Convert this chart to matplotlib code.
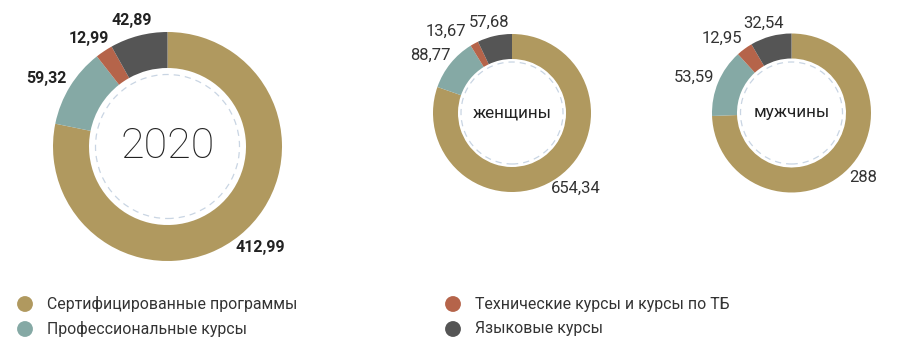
import matplotlib
matplotlib.use("Agg")
import matplotlib.pyplot as plt
from matplotlib.patches import Circle
import numpy as np

# ---- data ----
categories = ["Сертифицированные программы", "Профессиональные курсы",
              "Технические курсы и курсы по ТБ", "Языковые курсы"]
colors = ["#B0995F", "#85A9A5", "#B5644A", "#555555"]
total_2020 = [412.99, 59.32, 12.99, 42.89]
women = [654.34, 88.77, 13.67, 57.68]
men = [288, 53.59, 12.95, 32.54]
center_titles = ["2020", "женщины", "мужчины"]

W, H = 900, 351
fig = plt.figure(figsize=(W / 100, H / 100), dpi=100)
ax = fig.add_axes([0, 0, 1, 1])

donuts = [
    dict(vals=total_2020, c=(167.5, H - 146.5), r=114.5, w=36, dash_r=72,
         title=center_titles[0], tsize=31, tweight="light", lsize=11.5, lweight="bold", gap=8),
    dict(vals=women, c=(512, H - 113), r=79, w=25, dash_r=51,
         title=center_titles[1], tsize=12.3, tweight="normal", lsize=12, lweight="normal", gap=6),
    dict(vals=men, c=(791.5, H - 113), r=79.5, w=25, dash_r=51,
         title=center_titles[2], tsize=12.3, tweight="normal", lsize=12, lweight="normal", gap=6),
]


def fmt(v):
    return ("%g" % v).replace(".", ",")


fam = ["Roboto", "DejaVu Sans"]
groups = []
for d in donuts:
    wedges, _ = ax.pie(d["vals"], colors=colors, startangle=90, counterclock=False,
                       center=d["c"], radius=d["r"], frame=True,
                       wedgeprops=dict(width=d["w"], linewidth=0))
    ax.add_patch(Circle(d["c"], d["dash_r"], fill=False, edgecolor="#C9D5E3",
                        lw=0.9, linestyle=(0, (5, 4))))
    ax.text(d["c"][0], d["c"][1], d["title"], ha="center", va="center",
            fontsize=d["tsize"], fontweight=d["tweight"], color="#222222", family=fam)
    labs = []
    for wdg, v in zip(wedges, d["vals"]):
        mid = np.deg2rad((wdg.theta1 + wdg.theta2) / 2)
        px = d["c"][0] + (d["r"] + d["gap"]) * np.cos(mid)
        py = d["c"][1] + (d["r"] + d["gap"]) * np.sin(mid)
        t = ax.text(px, py, fmt(v), ha="center", va="center", fontsize=d["lsize"],
                    fontweight=d["lweight"],
                    color="#222222" if d["lweight"] == "bold" else "#333333",
                    family=fam)
        labs.append([t, px, py, mid])
    groups.append(labs)

ax.set_xlim(0, W)
ax.set_ylim(0, H)
ax.set_aspect("equal")
ax.axis("off")

# reposition labels so their box touches the anchor point, then resolve overlaps
renderer = fig.canvas.get_renderer()
for labs in groups:
    for item in labs:
        t, px, py, mid = item
        bb = t.get_window_extent(renderer=renderer)
        disp = ax.transData.transform((px, py))
        disp = disp + np.array([bb.width / 2 * np.cos(mid), bb.height / 2 * np.sin(mid)])
        t.set_position(ax.transData.inverted().transform(disp))
    for i in range(len(labs) - 1):
        a, b = labs[i][0], labs[i + 1][0]
        ba = a.get_window_extent(renderer=renderer)
        bbx = b.get_window_extent(renderer=renderer)
        if ba.overlaps(bbx):
            shift = ba.x1 - bbx.x0 + 2
            pos = ax.transData.transform(a.get_position())
            a.set_position(ax.transData.inverted().transform(pos - np.array([shift, 0])))

# legend
leg_pos = [(25, 304), (25, 329), (453, 304), (453, 329)]
for (lx, ly), cat, col in zip(leg_pos, categories, colors):
    ax.scatter([lx], [H - ly], s=130, color=col, edgecolors="none")
    ax.text(lx + 22, H - ly, cat, ha="left", va="center", fontsize=11.4,
            color="#333333", family=fam)

fig.savefig("out.png", dpi=100)
